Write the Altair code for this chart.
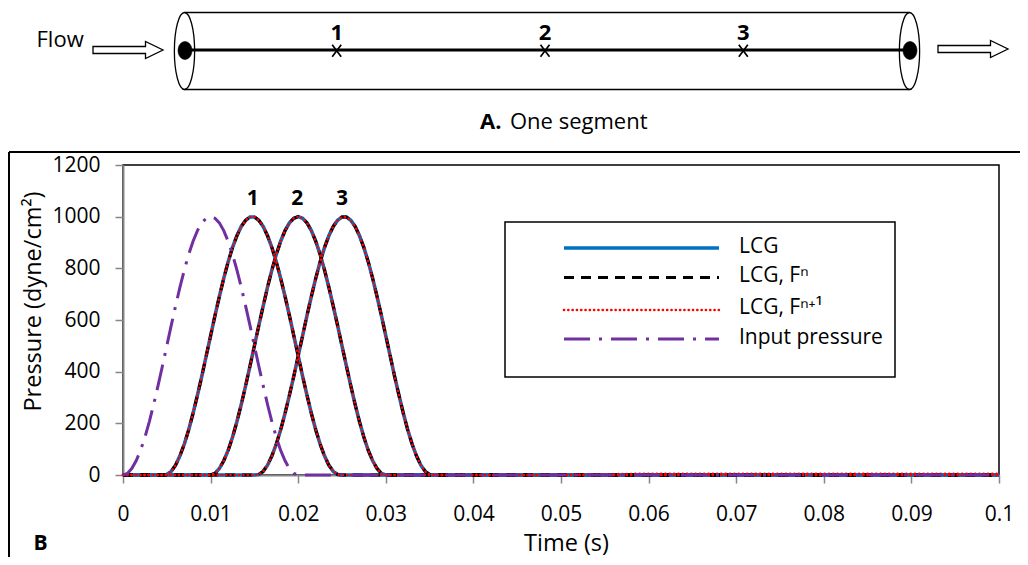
import altair as alt
import pandas as pd

FONT = "Open Sans"

# ---------------- data ----------------
time_s = [
    0, 0.0005, 0.001, 0.0015, 0.002, 0.0025, 0.003, 0.0035, 0.004, 0.0045,
    0.005, 0.0055, 0.006, 0.0065, 0.007, 0.0075, 0.008, 0.0085, 0.009, 0.0095,
    0.01, 0.0105, 0.011, 0.0115, 0.012, 0.0125, 0.013, 0.0135, 0.014, 0.0145,
    0.015, 0.0155, 0.016, 0.0165, 0.017, 0.0175, 0.018, 0.0185, 0.019, 0.0195,
    0.02, 0.0205, 0.021, 0.0215, 0.022, 0.0225, 0.023, 0.0235, 0.024, 0.0245,
    0.025, 0.0255, 0.026, 0.0265, 0.027, 0.0275, 0.028, 0.0285, 0.029, 0.0295,
    0.03, 0.0305, 0.031, 0.0315, 0.032, 0.0325, 0.033, 0.0335, 0.034, 0.0345,
    0.035, 0.0355, 0.036,
    0.04, 0.05, 0.06, 0.07, 0.08, 0.09, 0.1,
]

input_pressure = [
    0, 6, 25, 55, 95, 146, 206, 273, 346, 422,
    500, 578, 654, 727, 794, 854, 905, 946, 976, 994,
    1000, 994, 976, 946, 905, 854, 794, 727, 654, 578,
    500, 422, 346, 273, 206, 146, 95, 55, 25, 6,
    0, 0, 0, 0, 0, 0, 0, 0, 0, 0,
    0, 0, 0, 0, 0, 0, 0, 0, 0, 0,
    0, 0, 0, 0, 0, 0, 0, 0, 0, 0,
    0, 0, 0,
    0, 0, 0, 0, 0, 0, 0,
]

lcg_point1 = [
    0, 0, 0, 0, 0, 0, 0, 0, 0, 0,
    2, 14, 38, 74, 120, 175, 239, 309, 383, 461,
    539, 617, 691, 761, 825, 880, 926, 962, 986, 999,
    999, 986, 962, 926, 880, 825, 761, 691, 617, 539,
    461, 383, 309, 239, 175, 120, 74, 38, 14, 2,
    0, 0, 0, 0, 0, 0, 0, 0, 0, 0,
    0, 0, 0, 0, 0, 0, 0, 0, 0, 0,
    0, 0, 0,
    0, 0, 0, 0, 0, 0, 0,
]

lcg_point2 = [
    0, 0, 0, 0, 0, 0, 0, 0, 0, 0,
    0, 0, 0, 0, 0, 0, 0, 0, 0, 0,
    0, 6, 25, 55, 95, 146, 206, 273, 346, 422,
    500, 578, 654, 727, 794, 854, 905, 946, 976, 994,
    1000, 994, 976, 946, 905, 854, 794, 727, 654, 578,
    500, 422, 346, 273, 206, 146, 95, 55, 25, 6,
    0, 0, 0, 0, 0, 0, 0, 0, 0, 0,
    0, 0, 0,
    0, 0, 0, 0, 0, 0, 0,
]

lcg_point3 = [
    0, 0, 0, 0, 0, 0, 0, 0, 0, 0,
    0, 0, 0, 0, 0, 0, 0, 0, 0, 0,
    0, 0, 0, 0, 0, 0, 0, 0, 0, 0,
    0, 2, 14, 38, 74, 120, 175, 239, 309, 383,
    461, 539, 617, 691, 761, 825, 880, 926, 962, 986,
    999, 999, 986, 962, 926, 880, 825, 761, 691, 617,
    539, 461, 383, 309, 239, 175, 120, 74, 38, 14,
    2, 0, 0,
    0, 0, 0, 0, 0, 0, 0,
]

fn_point1 = list(lcg_point1)
fn_point2 = list(lcg_point2)
fn_point3 = list(lcg_point3)
fnp1_point1 = list(lcg_point1)
fnp1_point2 = list(lcg_point2)
fnp1_point3 = lcg_point3[:73] + [0, 0, 5, 5, 5, 5, 5]

x_ticks = [0, 0.01, 0.02, 0.03, 0.04, 0.05, 0.06, 0.07, 0.08, 0.09, 0.1]
y_ticks = [0, 200, 400, 600, 800, 1000, 1200]

series_names = ["LCG", "LCG, F\u207f", "LCG, F\u207f\u207a\u00b9", "Input pressure"]
peak_labels = ["1", "2", "3"]
peak_times = [0.0148, 0.0199, 0.0250]
peak_pressure = [1068, 1068, 1068]

# ---------------- long table ----------------
rows = []
groups = [
    (series_names[0], "1", lcg_point1), (series_names[0], "2", lcg_point2), (series_names[0], "3", lcg_point3),
    (series_names[1], "1", fn_point1), (series_names[1], "2", fn_point2), (series_names[1], "3", fn_point3),
    (series_names[2], "1", fnp1_point1), (series_names[2], "2", fnp1_point2), (series_names[2], "3", fnp1_point3),
    (series_names[3], "0", input_pressure),
]
for name, loc, vals in groups:
    for t, v in zip(time_s, vals):
        rows.append({"t": t, "p": v, "series": name, "loc": loc})
df = pd.DataFrame(rows)

peaks_df = pd.DataFrame({"label": peak_labels, "t": peak_times, "p": peak_pressure})
one = pd.DataFrame({"k": [0]})

AXIS_GREY = "#878787"

x_enc = alt.X(
    "t:Q",
    scale=alt.Scale(domain=[0, 0.1], nice=False, zero=False),
    axis=alt.Axis(
        values=x_ticks, labelExpr="format(datum.value, '.2~f')", grid=False,
        domainColor=AXIS_GREY, domainWidth=2, tickColor=AXIS_GREY, tickWidth=1.5, tickSize=8,
        labelFont=FONT, labelFontSize=21, labelColor="black", labelPadding=20,
        labelFlush=False, labelOverlap=False, labelBound=False,
        title="Time (s)", titleFont=FONT, titleFontSize=23.5, titleFontWeight="normal",
        titleColor="black", titleX=443, titleY=68, titleBaseline="middle", titleAlign="center",
    ),
)
y_enc = alt.Y(
    "p:Q",
    scale=alt.Scale(domain=[0, 1200], nice=False),
    axis=alt.Axis(
        values=y_ticks, format="d", grid=False,
        domainColor=AXIS_GREY, domainWidth=2, tickColor=AXIS_GREY, tickWidth=1.5, tickSize=8,
        labelFont=FONT, labelFontSize=21, labelColor="black", labelPadding=15,
        labelOverlap=False, labelBound=False,
        title="Pressure (dyne/cm\u00b2)", titleFont=FONT, titleFontSize=23.5, titleFontWeight="normal",
        titleColor="black", titleX=-90, titleY=136, titleAngle=270,
        titleBaseline="middle", titleAlign="center",
    ),
)

styles = {
    series_names[0]: dict(color="#0070C0", strokeWidth=3.6),
    series_names[1]: dict(color="black", strokeWidth=3, strokeDash=[10, 7]),
    series_names[2]: dict(color="#FF0000", strokeWidth=2.6, strokeDash=[0.1, 4.2], strokeCap="round"),
    series_names[3]: dict(color="#7030A0", strokeWidth=3, strokeDash=[26, 9, 3, 9]),
}

layers = []
for name in series_names:
    layers.append(
        alt.Chart(df)
        .transform_filter(alt.datum.series == name)
        .mark_line(**styles[name])
        .encode(x=x_enc, y=y_enc, detail="loc:N")
    )

layers.append(
    alt.Chart(peaks_df)
    .mark_text(font=FONT, fontSize=21, fontWeight="bold", color="black", baseline="middle")
    .encode(x="t:Q", y="p:Q", text="label:N")
)


def txt(s, x, y, size, bold=False, align="left", baseline="middle"):
    return alt.Chart(one).mark_text(
        text=s, font=FONT, fontSize=size, fontWeight="bold" if bold else "normal",
        align=align, baseline=baseline, color="black",
    ).encode(x=alt.value(x), y=alt.value(y))


def hrule(x, x2, y, width=1.5, color="black", **kw):
    return alt.Chart(one).mark_rule(color=color, strokeWidth=width, **kw).encode(
        x=alt.value(x), x2=alt.value(x2), y=alt.value(y))


def vrule(x, y, y2, width=1.5, color="black"):
    return alt.Chart(one).mark_rule(color=color, strokeWidth=width).encode(
        x=alt.value(x), y=alt.value(y), y2=alt.value(y2))


def sym(path, size, x, y, fill=None, sw=1.3):
    kw = dict(shape=path, size=size, stroke="black", strokeWidth=sw, opacity=1, strokeOpacity=1)
    if fill is None:
        kw["filled"] = False
    else:
        kw["filled"] = True
        kw["fill"] = fill
        kw["fillOpacity"] = 1
    return alt.Chart(one).mark_point(**kw).encode(x=alt.value(x), y=alt.value(y))


# legend box
layers.append(
    alt.Chart(one).mark_rect(fill="white", stroke="black", strokeWidth=1.5).encode(
        x=alt.value(382), x2=alt.value(772), y=alt.value(57), y2=alt.value(212))
)
leg_y = [83, 112.5, 145, 174]
leg_ty = [82, 111, 143, 172.5]
for i, name in enumerate(series_names):
    st = dict(styles[name])
    color = st.pop("color")
    w = st.pop("strokeWidth")
    layers.append(hrule(441, 596, leg_y[i], width=w, color=color, **st))
    layers.append(txt(name, 616, leg_ty[i], 21))

# outer "B" frame
layers.append(hrule(-114, 897, -13, width=2))
layers.append(vrule(-114, -13, 392, width=2))
layers.append(txt("B", -82.5, 379, 21, bold=True, align="center"))

# ---------------- top diagram (panel A) ----------------
ARROW = "M -1 -0.1 L 0.5 -0.1 L 0.5 -0.243 L 1 0 L 0.5 0.243 L 0.5 0.1 L -1 0.1 Z"
ELLIPSE = ("M 0 -1 C 0.145 -1 0.263 -0.552 0.263 0 C 0.263 0.552 0.145 1 0 1 "
           "C -0.145 1 -0.263 0.552 -0.263 0 C -0.263 -0.552 -0.145 -1 0 -1 Z")
DOT = ("M 0 -1 C 0.43 -1 0.78 -0.552 0.78 0 C 0.78 0.552 0.43 1 0 1 "
       "C -0.43 1 -0.78 0.552 -0.78 0 C -0.78 -0.552 -0.43 -1 0 -1 Z")
CROSS = "M -0.75 -1 L 0.75 1 M 0.75 -1 L -0.75 1"

layers.append(txt("Flow", -86.5, -118.5, 22, baseline="alphabetic"))
layers.append(sym(ARROW, 4900, 5, -115, fill="white", sw=1.3))
layers.append(sym(ARROW, 4900, 850, -116, fill="white", sw=1.3))
layers.append(hrule(61.5, 786.5, -152.5, width=1.5))
layers.append(hrule(61.5, 786.5, -75.5, width=1.5))
layers.append(sym(ELLIPSE, 5929, 61.5, -114, sw=1.3))
layers.append(sym(ELLIPSE, 5929, 786.5, -114, sw=1.3))
layers.append(hrule(62, 787, -115, width=3.2))
layers.append(sym(DOT, 324, 62, -114.5, fill="black", sw=0.5))
layers.append(sym(DOT, 324, 787, -114.5, fill="black", sw=0.5))
diagram_marks_x = [213.7, 422, 620.3]
for i, lab in enumerate(peak_labels):
    layers.append(sym(CROSS, 144, diagram_marks_x[i], -114.3, sw=1.7))
    layers.append(txt(lab, diagram_marks_x[i], -132, 22, bold=True, align="center"))
layers.append(txt("A.", 357, -36, 22, bold=True, baseline="alphabetic"))
layers.append(txt("One segment", 387, -36, 22, baseline="alphabetic"))

chart = (
    alt.layer(*layers)
    .properties(
        width=876, height=310,
        autosize=alt.AutoSizeParams(type="none"),
        padding={"left": 115, "top": 157, "right": 21, "bottom": 82},
    )
    .configure_view(stroke="black", strokeWidth=1.5)
)

chart.save("out.html", embed_options={"renderer": "svg", "actions": False})
